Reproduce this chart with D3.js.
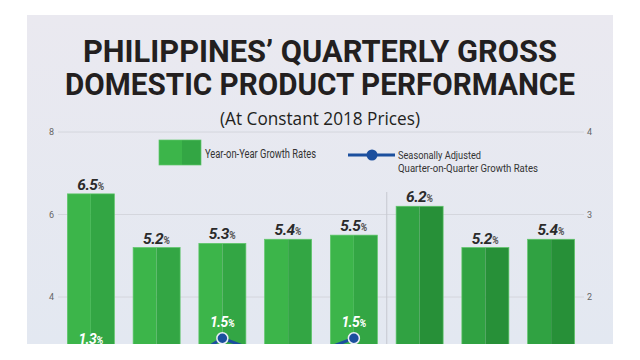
<!DOCTYPE html>
<html><head><meta charset="utf-8">
<script src="https://cdn.jsdelivr.net/npm/d3@7"></script>
<style>html,body{margin:0;padding:0;background:#fff;}svg{display:block;}</style>
</head><body><svg id="c" width="640" height="360"></svg>
<script>
// ---- data ----
const periods = ["P1","P2","P3","P4","P5","P6","P7","P8"];
const yoyGrowth = [6.5, 5.2, 5.3, 5.4, 5.5, 6.2, 5.2, 5.4];
const qoqGrowth = [1.3, 1.0, 1.5, 1.2, 1.5];
const leftTicks = [4, 6, 8];
const rightTicks = [2, 3, 4];
const titleLines = ["PHILIPPINES\u2019 QUARTERLY GROSS", "DOMESTIC PRODUCT PERFORMANCE"];
const subtitle = "(At Constant 2018 Prices)";
const legendBar = "Year-on-Year Growth Rates";
const legendLine = ["Seasonally Adjusted", "Quarter-on-Quarter Growth Rates"];
const splitAfter = 5; // separator between the two groups of bars

const svg = d3.select("#c");
const P = {x0: 27, y0: 15, x1: 613, y1: 344};

const defs = svg.append("defs");
const grad = defs.append("linearGradient").attr("id","bg").attr("x1",0).attr("y1",0).attr("x2",0).attr("y2",1);
grad.append("stop").attr("offset","0").attr("stop-color","#eae9f0");
grad.append("stop").attr("offset","1").attr("stop-color","#e3e8f1");
defs.append("clipPath").attr("id","panel").append("rect")
  .attr("x",P.x0).attr("y",P.y0).attr("width",P.x1-P.x0).attr("height",P.y1-P.y0);

svg.append("rect").attr("x",P.x0).attr("y",P.y0).attr("width",P.x1-P.x0).attr("height",P.y1-P.y0).attr("fill","url(#bg)");

const g = svg.append("g").attr("clip-path","url(#panel)");

// scales
const x = d3.scaleBand().domain(periods).range([58, 584]).paddingInner(0.285).paddingOuter(0.1425);
const yL = d3.scaleLinear().domain([0, 8]).range([462, 132]);
const yR = d3.scaleLinear().domain([0, 4]).range([462, 132]);

// gridlines
g.selectAll("line.grid").data(leftTicks).join("line")
  .attr("x1",58).attr("x2",584).attr("y1",d=>yL(d)).attr("y2",d=>yL(d))
  .attr("stroke","#cfd0d8").attr("stroke-width",0.8);

// left axis
const axL = g.append("g").attr("transform","translate(58,0)")
  .call(d3.axisLeft(yL).tickValues(leftTicks).tickFormat(d3.format("d")).tickSize(0).tickPadding(4));
axL.select(".domain").remove();
axL.selectAll("text").attr("font-family","Roboto, sans-serif").attr("font-size",9).attr("fill","#666");
// right axis
const axR = g.append("g").attr("transform","translate(584,0)")
  .call(d3.axisRight(yR).tickValues(rightTicks).tickFormat(d3.format("d")).tickSize(0).tickPadding(3));
axR.select(".domain").remove();
axR.selectAll("text").attr("font-family","Roboto, sans-serif").attr("font-size",9).attr("fill","#666");

// separator
const sepX = (x(periods[splitAfter-1]) + x.bandwidth() + x(periods[splitAfter]))/2;
g.append("line").attr("x1",sepX).attr("x2",sepX).attr("y1",192).attr("y2",P.y1)
  .attr("stroke","#c6c8d0").attr("stroke-width",1);

// bars (two-tone)
const colL = i => i < splitAfter ? "#3cb54a" : "#30a242";
const colR = i => i < splitAfter ? "#33a644" : "#279038";
const bars = g.selectAll("g.bar").data(yoyGrowth).join("g").attr("class","bar");
bars.append("rect")
  .attr("x",(d,i)=>x(periods[i])).attr("y",d=>yL(d))
  .attr("width",x.bandwidth()/2).attr("height",d=>yL(0)-yL(d)).attr("fill",(d,i)=>colL(i));
bars.append("rect")
  .attr("x",(d,i)=>x(periods[i])+x.bandwidth()/2).attr("y",d=>yL(d))
  .attr("width",x.bandwidth()/2).attr("height",d=>yL(0)-yL(d)).attr("fill",(d,i)=>colR(i));
bars.append("rect")
  .attr("x",(d,i)=>x(periods[i])).attr("y",d=>yL(d))
  .attr("width",x.bandwidth()).attr("height",d=>yL(0)-yL(d))
  .attr("fill","none").attr("stroke","#5fc66a").attr("stroke-width",0.7);

// bar labels
const bl = g.selectAll("text.bl").data(yoyGrowth).join("text")
  .attr("x",(d,i)=>x(periods[i])+x.bandwidth()/2).attr("y",d=>yL(d)-4)
  .attr("text-anchor","middle").attr("font-family","Roboto, sans-serif")
  .attr("font-weight",700).attr("font-style","italic").attr("fill","#2b2b2b");
bl.append("tspan").attr("font-size",15.5).attr("letter-spacing",-0.6).text(d=>d.toFixed(1));
bl.append("tspan").attr("font-size",10).attr("fill","#555").text("%");

// line series
const cx = i => x(periods[i]) + x.bandwidth()/2;
const line = d3.line().x((d,i)=>cx(i)).y(d=>yR(d));
g.append("path").datum(qoqGrowth).attr("d",line).attr("fill","none")
  .attr("stroke","#1b4f9e").attr("stroke-width",3);
g.selectAll("circle.pt").data(qoqGrowth).join("circle")
  .attr("cx",(d,i)=>cx(i)).attr("cy",d=>yR(d)).attr("r",5.5)
  .attr("fill","#1b4f9e").attr("stroke","#e8ecf5").attr("stroke-width",1.5);
const isLow = i => (i>0 && qoqGrowth[i] < qoqGrowth[i-1]) && (i===qoqGrowth.length-1 || qoqGrowth[i] < qoqGrowth[i+1]);
const labelY = (d,i) => isLow(i) ? yR(d)+22 : yR(d)-11;
const shown = qoqGrowth.map((d,i)=>({d,i})).filter(o => labelY(o.d,o.i) < P.y1 + 2);
const ll = g.selectAll("text.ll").data(shown).join("text")
  .attr("x",o=>cx(o.i)).attr("y",o=>labelY(o.d,o.i))
  .attr("text-anchor","middle").attr("font-family","Roboto, sans-serif")
  .attr("font-weight",700).attr("font-style","italic").attr("fill","#ffffff");
ll.append("tspan").attr("font-size",14).attr("letter-spacing",-0.6).text(o=>o.d.toFixed(1));
ll.append("tspan").attr("font-size",10).text("%");

// title
const tl = svg.append("g");
tl.append("text").attr("x",320).attr("y",62).attr("text-anchor","middle")
  .attr("font-family","Roboto, sans-serif").attr("font-weight",700).attr("font-size",32)
  .attr("fill","#231f20").attr("textLength",474).attr("lengthAdjust","spacingAndGlyphs").text(titleLines[0]);
tl.append("text").attr("x",320).attr("y",95).attr("text-anchor","middle")
  .attr("font-family","Roboto, sans-serif").attr("font-weight",700).attr("font-size",32)
  .attr("fill","#231f20").attr("textLength",510).attr("lengthAdjust","spacingAndGlyphs").text(titleLines[1]);
tl.append("text").attr("x",320).attr("y",125).attr("text-anchor","middle")
  .attr("font-family","'Open Sans', sans-serif").attr("font-size",18)
  .attr("fill","#231f20").attr("textLength",200).attr("lengthAdjust","spacingAndGlyphs").text(subtitle);

// legend
const lg = svg.append("g");
lg.append("rect").attr("x",159).attr("y",140).attr("width",23).attr("height",25).attr("fill","#3cb54a");
lg.append("rect").attr("x",182).attr("y",140).attr("width",19).attr("height",25).attr("fill","#33a644");
lg.append("rect").attr("x",159).attr("y",140).attr("width",42).attr("height",25).attr("fill","none").attr("stroke","#5fc66a").attr("stroke-width",0.7);
lg.append("text").attr("x",205).attr("y",158).attr("font-family","Roboto, sans-serif").attr("font-size",12)
  .attr("fill","#333").attr("textLength",111).attr("lengthAdjust","spacingAndGlyphs").text(legendBar);
lg.append("line").attr("x1",348).attr("x2",395).attr("y1",155).attr("y2",155).attr("stroke","#1b4f9e").attr("stroke-width",3);
lg.append("circle").attr("cx",372).attr("cy",155).attr("r",5.5).attr("fill","#1b4f9e");
lg.append("text").attr("x",398).attr("y",158.5).attr("font-family","Roboto, sans-serif").attr("font-size",11.5)
  .attr("fill","#333").attr("textLength",83).attr("lengthAdjust","spacingAndGlyphs").text(legendLine[0]);
lg.append("text").attr("x",398).attr("y",171.5).attr("font-family","Roboto, sans-serif").attr("font-size",11.5)
  .attr("fill","#333").attr("textLength",140).attr("lengthAdjust","spacingAndGlyphs").text(legendLine[1]);
</script></body></html>
